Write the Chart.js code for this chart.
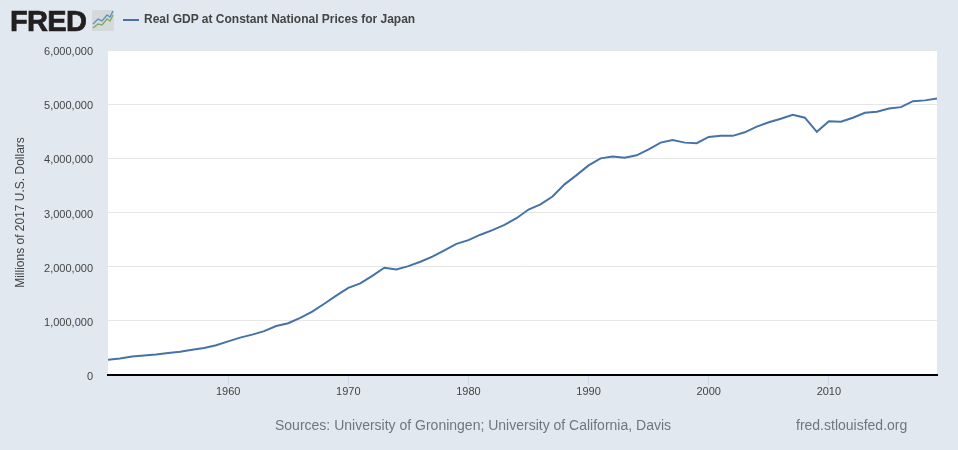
<!DOCTYPE html>
<html>
<head>
<meta charset="utf-8">
<title>Real GDP at Constant National Prices for Japan</title>
<script src="https://cdn.jsdelivr.net/npm/chart.js@4"></script>
<style>
    html, body { margin: 0; padding: 0; background: #e1e8f0; }
    body { position: relative; width: 958px; height: 450px; overflow: hidden; font-family: "Liberation Sans", Arial, sans-serif; }
    canvas { position: absolute; left: 0; top: 0; }
    .logo { position: absolute; left: 10px; top: 5px; font: bold 29px "Liberation Sans", Arial, sans-serif; letter-spacing: -0.7px; -webkit-text-stroke: 0.7px #231f20; color: #231f20; line-height: 32px; }
    .logo-icon { position: absolute; left: 92px; top: 10px; }
    .legend-line { position: absolute; left: 123px; top: 19px; width: 16px; height: 2px; background: #4572a7; }
    .legend-text { position: absolute; left: 144px; top: 12px; font: bold 12px "Liberation Sans", Arial, sans-serif; color: #444; line-height: 15px; white-space: nowrap; }
    .sources { position: absolute; left: 275px; top: 417px; font-size: 14px; line-height: 17px; color: #70767f; white-space: nowrap; }
    .site { position: absolute; left: 796px; top: 417px; font-size: 14px; line-height: 17px; color: #70767f; white-space: nowrap; }
</style>
</head>
<body>
<canvas id="gdpChart" width="958" height="450"></canvas>
<div class="logo">FRED</div>
<svg class="logo-icon" width="22" height="21" viewBox="0 0 22 21">
    <rect width="22" height="21" rx="1" fill="#d5d9dc"/>
    <path d="M1 14 L6 9 L10 11 L15 5 L18 7 L21 1" fill="none" stroke="#5f93c2" stroke-width="1.4"/>
    <path d="M1 18 L6 14 L10 15 L15 9 L18 11 L21 5" fill="none" stroke="#84ad62" stroke-width="1.4"/>
</svg>
<div class="legend-line"></div>
<div class="legend-text">Real GDP at Constant National Prices for Japan</div>
<div class="sources">Sources: University of Groningen; University of California, Davis</div>
<div class="site">fred.stlouisfed.org</div>
<script>
const years = [
    1950, 1951, 1952, 1953, 1954, 1955, 1956, 1957, 1958, 1959,
    1960, 1961, 1962, 1963, 1964, 1965, 1966, 1967, 1968, 1969,
    1970, 1971, 1972, 1973, 1974, 1975, 1976, 1977, 1978, 1979,
    1980, 1981, 1982, 1983, 1984, 1985, 1986, 1987, 1988, 1989,
    1990, 1991, 1992, 1993, 1994, 1995, 1996, 1997, 1998, 1999,
    2000, 2001, 2002, 2003, 2004, 2005, 2006, 2007, 2008, 2009,
    2010, 2011, 2012, 2013, 2014, 2015, 2016, 2017, 2018, 2019
];
const gdpValues = [
    280000, 305000, 340000, 362000, 378000, 405000, 430000, 468000, 497000, 548000,
    620000, 690000, 745000, 810000, 905000, 955000, 1055000, 1170000, 1315000, 1465000,
    1610000, 1690000, 1830000, 1980000, 1950000, 2010000, 2090000, 2185000, 2300000, 2420000,
    2490000, 2590000, 2675000, 2770000, 2895000, 3055000, 3150000, 3295000, 3520000, 3690000,
    3870000, 4000000, 4035000, 4010000, 4055000, 4165000, 4290000, 4340000, 4290000, 4280000,
    4395000, 4415000, 4415000, 4480000, 4585000, 4665000, 4730000, 4805000, 4750000, 4490000,
    4685000, 4675000, 4750000, 4840000, 4860000, 4920000, 4945000, 5055000, 5070000, 5105000
];
const yearTicks = [1960, 1970, 1980, 1990, 2000, 2010];
const valueTicks = [0, 1000000, 2000000, 3000000, 4000000, 5000000, 6000000];

const tickFont = { family: '"Liberation Sans", Arial, sans-serif', size: 11 };

new Chart(document.getElementById('gdpChart').getContext('2d'), {
    type: 'line',
    data: {
        datasets: [{
            data: years.map((year, i) => ({ x: year, y: gdpValues[i] })),
            borderColor: '#4572a7',
            borderWidth: 2,
            pointRadius: 0,
            tension: 0,
            clip: false
        }]
    },
    plugins: [{
        // white plot background
        id: 'plotBackground',
        beforeDraw(chart) {
            const { ctx, chartArea } = chart;
            ctx.save();
            ctx.fillStyle = '#ffffff';
            ctx.fillRect(chartArea.left, chartArea.top, chartArea.width, chartArea.height);
            ctx.restore();
        }
    }],
    options: {
        responsive: false,
        animation: false,
        layout: { padding: { top: 50, right: 21, left: 0, bottom: 0 } },
        plugins: { legend: { display: false }, tooltip: { enabled: false } },
        scales: {
            x: {
                type: 'linear',
                min: 1950,
                max: 2019,
                afterBuildTicks: axis => { axis.ticks = yearTicks.map(value => ({ value })); },
                afterFit: axis => { axis.height = 75; },
                border: { color: '#000000', width: 2 },
                grid: { drawOnChartArea: false, color: '#ccd6eb', tickLength: 10 },
                ticks: {
                    color: '#444444',
                    font: tickFont,
                    maxRotation: 0,
                    padding: 0,
                    autoSkip: false,
                    callback: value => String(value)
                }
            },
            y: {
                min: 0,
                max: 6000000,
                afterBuildTicks: axis => { axis.ticks = valueTicks.map(value => ({ value })); },
                afterFit: axis => { axis.width = 108; },
                border: { display: false },
                grid: { color: '#e6e6e6', lineWidth: 1, drawTicks: false },
                ticks: {
                    color: '#444444',
                    font: tickFont,
                    padding: 15,
                    labelOffset: 2,
                    callback: value => value.toLocaleString('en-US')
                },
                title: {
                    display: true,
                    text: 'Millions of 2017 U.S. Dollars',
                    color: '#444444',
                    font: { family: tickFont.family, size: 12 },
                    padding: { top: 13, bottom: 0 }
                }
            }
        }
    }
});
</script>
</body>
</html>
